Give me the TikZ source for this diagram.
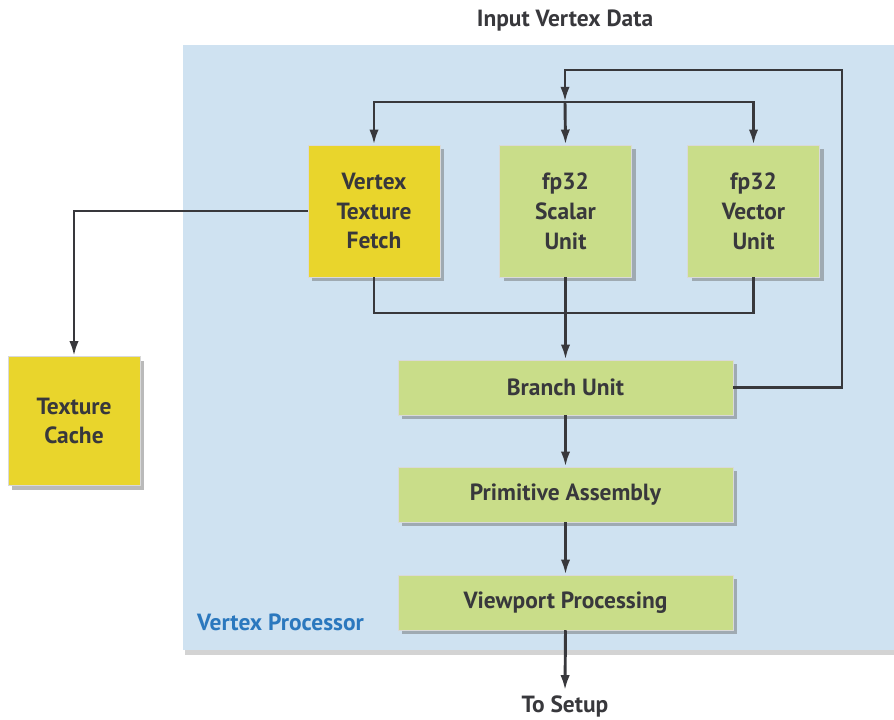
\documentclass[tikz,border=0pt]{standalone}
\usepackage{fontspec}
\setmainfont{PT Sans}
\usetikzlibrary{arrows.meta,shadows}
\definecolor{vpblue}{HTML}{CFE2F1}
\definecolor{unitgreen}{HTML}{C9DD89}
\definecolor{fetchyellow}{HTML}{E9D52C}
\definecolor{wiregray}{HTML}{38383C}
\definecolor{labelblue}{HTML}{2B78BE}
\begin{document}
\begin{tikzpicture}[x=0.03cm, y=-0.03cm,
  txt/.style={font=\fontsize{20}{25.5}\selectfont\bfseries, text=wiregray, align=center, inner sep=0pt},
  box/.style={txt, rectangle, draw=white!70!gray, line width=0.4pt,
    drop shadow={shadow xshift=3.5pt, shadow yshift=-3.5pt, opacity=0.45, fill=black!60}},
  unit/.style={box, fill=unitgreen},
  fetch/.style={box, fill=fetchyellow},
  sq/.style={minimum width=3.96cm, minimum height=3.96cm},
  bar/.style={minimum width=10.05cm, minimum height=1.65cm},
  wire/.style={draw=wiregray, line width=2.5pt},
  arr/.style={wire, -{Latex[length=13pt,width=8pt]}}]
\useasboundingbox (0,0) rectangle (894,719);
% vertex processor frame
\fill[vpblue, drop shadow={shadow xshift=2pt, shadow yshift=-4pt, opacity=0.35, fill=black!50}]
  (183,45) rectangle (920,650);
\node[txt, text=labelblue, anchor=west] (vplabel) at (197,622) {Vertex Processor};
% outside texts
\node[txt] (input) at (565,21) {Input Vertex Data};
\node[txt] (setup) at (565,706) {To Setup};
% units
\node[fetch, sq] (vtf) at (374,211) {Vertex\\Texture\\Fetch};
\node[unit, sq] (scu) at (565.5,211) {fp32\\Scalar\\Unit};
\node[unit, sq] (vcu) at (753.5,211) {fp32\\Vector\\Unit};
\node[fetch, minimum width=3.96cm, minimum height=3.87cm] (tc) at (74,421) {Texture\\Cache};
\node[unit, bar] (bru) at (565.5,387.5) {Branch Unit};
\node[unit, bar] (pra) at (565.5,494.5) {Primitive Assembly};
\node[unit, bar] (vpp) at (565.5,602.5) {Viewport Processing};
% bus points
\coordinate (loopR) at (842,70);
\coordinate (bustop) at (565,102);
\coordinate (busbot) at (565,313);
% connectors
\draw[arr] (bru.east) -| (loopR) -| (bustop);
\draw[arr] (bustop) -| (vtf.north);
\draw[arr] (bustop) -| (vcu.north);
\draw[arr] (bustop) -- (scu.north);
\draw[wire] (vtf.south) |- (busbot) -| (vcu.south);
\draw[arr] (scu.south) -- (bru.north);
\draw[arr] (vtf.west) -| (tc.north);
\draw[arr] (bru.south) -- (pra.north);
\draw[arr] (pra.south) -- (vpp.north);
\draw[arr] (vpp.south) -- ([yshift=4pt]setup.north);
\end{tikzpicture}
\end{document}
